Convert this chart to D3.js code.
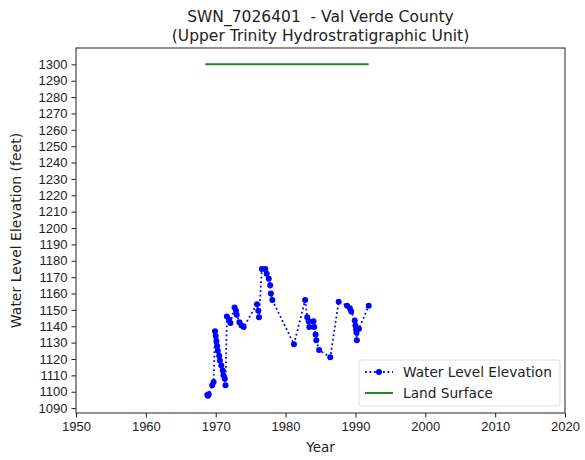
<!DOCTYPE html>
<html><head><meta charset="utf-8">
<script src="https://cdn.jsdelivr.net/npm/d3@7"></script>
<style>body{margin:0;background:#fff;} svg{display:block;font-family:"DejaVu Sans",sans-serif;} text{white-space:pre;}</style>
</head><body>
<svg id="c" width="585" height="460"></svg>
<script>
const years = [1968.8,1968.9,1969.0,1969.5,1969.7,1969.9,1970.0,1970.1,1970.2,1970.3,1970.5,1970.6,1970.8,1971.0,1971.1,1971.3,1971.4,1971.6,1971.9,1972.1,1972.7,1972.9,1973.0,1973.4,1973.7,1974.0,1975.9,1976.1,1976.2,1976.6,1977.1,1977.3,1977.6,1977.8,1977.9,1978.1,1981.2,1982.8,1983.1,1983.3,1983.4,1984.0,1984.1,1984.3,1984.4,1984.8,1986.4,1987.6,1988.8,1989.2,1989.4,1989.9,1990.0,1990.1,1990.15,1990.2,1990.5,1991.9];
const elevations = [1098,1097.5,1098.5,1104,1106,1137,1134,1131,1128,1125,1122,1119,1116,1113,1110,1108,1104,1146,1144,1142,1151.5,1149.5,1147,1142.5,1140.5,1139.5,1153.5,1149.5,1145.5,1175,1175,1172,1169,1165,1160,1156,1129,1156,1145.5,1143,1139.5,1143,1139.5,1135,1131.5,1125.5,1121,1155,1152.5,1151,1149,1143.5,1140.5,1138,1136,1131.5,1138.5,1152.5];
const landYears = [1968.5, 1991.9];
const landElev = [1300, 1300];
const xTicks = [1950,1960,1970,1980,1990,2000,2010,2020];
const yTicks = d3.range(1090, 1301, 10);
const titleLines = ["SWN_7026401  - Val Verde County", "(Upper Trinity Hydrostratigraphic Unit)"];

const svg = d3.select("#c");
const L=76, R=565, T=48, B=413;
const x = d3.scaleLinear().domain([1950,2020]).range([L,R]);
const y = d3.scaleLinear().domain([1087,1310]).range([B,T]);

svg.append("g").attr("transform",`translate(0,${B})`)
  .call(d3.axisBottom(x).tickValues(xTicks).tickFormat(d3.format("d")).tickSizeOuter(0).tickSize(4.5).tickPadding(4))
  .call(g=>{g.select(".domain").remove(); g.selectAll("text").attr("font-size",13).attr("fill","#222"); g.selectAll("line").attr("stroke","#222");});
svg.append("g").attr("transform",`translate(${L},0)`)
  .call(d3.axisLeft(y).tickValues(yTicks).tickFormat(d3.format("d")).tickSizeOuter(0).tickSize(4.5).tickPadding(4))
  .call(g=>{g.select(".domain").remove(); g.selectAll("text").attr("font-size",13).attr("fill","#222"); g.selectAll("line").attr("stroke","#222");});

svg.append("rect").attr("x",L).attr("y",T).attr("width",R-L).attr("height",B-T)
  .attr("fill","none").attr("stroke","#222").attr("stroke-width",1);

const line = d3.line().x(d=>x(d[0])).y(d=>y(d[1]));
const pts = years.map((v,i)=>[v,elevations[i]]);
svg.append("path").datum(pts).attr("d",line).attr("fill","none")
  .attr("stroke","#0000ff").attr("stroke-width",1.8).attr("stroke-dasharray","1.8,2.7");
svg.append("g").selectAll("circle").data(pts).join("circle")
  .attr("cx",d=>x(d[0])).attr("cy",d=>y(d[1])).attr("r",3).attr("fill","#0000ff");

svg.append("path").datum(landYears.map((v,i)=>[v,landElev[i]])).attr("d",line)
  .attr("fill","none").attr("stroke","#228b22").attr("stroke-width",2);

// titles
svg.append("g").selectAll("text").data(titleLines).join("text")
  .attr("x",(L+R)/2).attr("y",(d,i)=>22+i*19).attr("text-anchor","middle")
  .attr("font-size",15.5).attr("fill","#222").text(d=>d);
svg.append("text").attr("x",(L+R)/2).attr("y",452).attr("text-anchor","middle")
  .attr("font-size",13.5).attr("fill","#222").text("Year");
svg.append("text").attr("transform",`translate(21,${(T+B)/2}) rotate(-90)`).attr("text-anchor","middle")
  .attr("font-size",14).attr("fill","#222").text("Water Level Elevation (feet)");

// legend
const lg = svg.append("g");
lg.append("rect").attr("x",359).attr("y",360).attr("width",201).attr("height",46).attr("rx",3)
  .attr("fill","#fff").attr("stroke","#ddd");
lg.append("line").attr("x1",365).attr("x2",393).attr("y1",372).attr("y2",372)
  .attr("stroke","#0000ff").attr("stroke-width",1.8).attr("stroke-dasharray","1.8,2.7");
lg.append("circle").attr("cx",379).attr("cy",372).attr("r",3).attr("fill","#0000ff");
lg.append("line").attr("x1",365).attr("x2",393).attr("y1",393).attr("y2",393)
  .attr("stroke","#228b22").attr("stroke-width",2);
lg.append("text").attr("x",403).attr("y",377).attr("font-size",13.7).attr("fill","#222").text("Water Level Elevation");
lg.append("text").attr("x",403).attr("y",398).attr("font-size",13.7).attr("fill","#222").text("Land Surface");
</script>
</body></html>
